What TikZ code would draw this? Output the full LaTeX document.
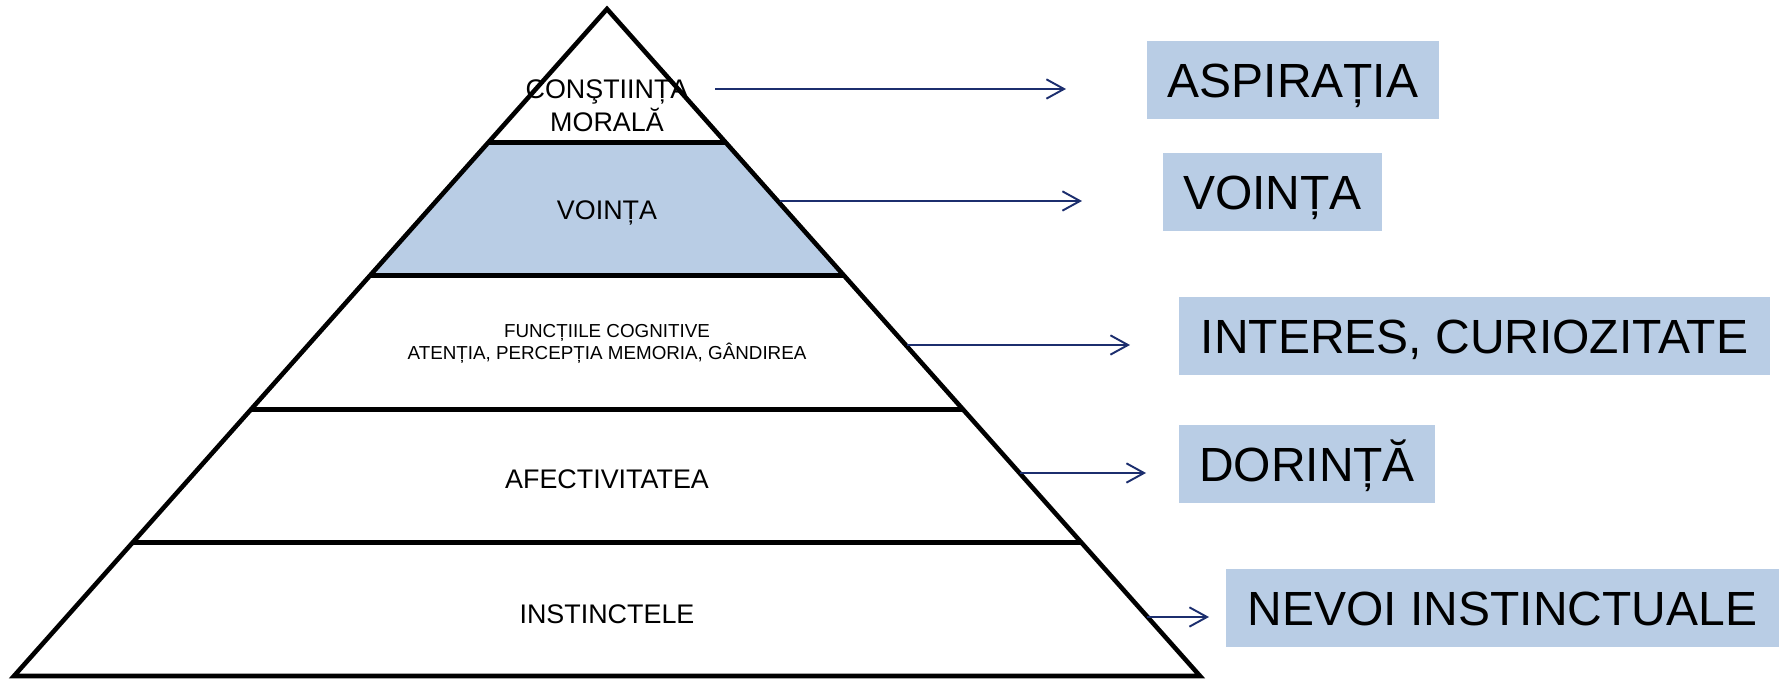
\documentclass[tikz,border=0pt]{standalone}
\usepackage{fontspec}
\setmainfont{Liberation Sans}
\usepackage{xcolor}
\usetikzlibrary{arrows.meta,calc}
\definecolor{boxblue}{RGB}{185,205,229}
\definecolor{arrnavy}{RGB}{28,46,110}

\begin{document}
\begin{tikzpicture}[
  lvl/.style={font=\fontsize{15.3}{18.8}\selectfont,align=center,inner sep=0pt},
  one/.style={text height=11pt,text depth=0pt},
  rbox/.style={rectangle,fill=boxblue,minimum height=1.56cm,inner sep=0pt,text height=19.5pt,text depth=0pt,font=\fontsize{27.3}{30}\selectfont},
  arr/.style={-{Straight Barb[length=10pt,width=11pt]},line width=1.1pt,draw=arrnavy},
  side/.style={line width=2.6pt},
  tier/.style={line width=3pt}
]
\useasboundingbox (0,0) rectangle (35.7,13.6);

% pyramid
\coordinate (top) at (12.14,13.42);
\coordinate (bl) at (0.28,0.08);
\coordinate (br) at (24.0,0.08);
\fill[boxblue] ($(top)!0.2!(bl)$) -- ($(top)!0.4!(bl)$) -- ($(top)!0.4!(br)$) -- ($(top)!0.2!(br)$) -- cycle;
\draw[side] (bl) -- (top) -- (br) -- cycle;
\foreach \k in {1,...,4}
  \draw[tier] ($(top)!\k/5!(bl)$) -- ($(top)!\k/5!(br)$);

\node[lvl] (cm) at (12.14,11.49) {CONŞTIINȚA\\MORALĂ};
\node[lvl,one] (vo) at (12.14,9.40) {VOINȚA};
\node[lvl,font=\fontsize{10.7}{12.5}\selectfont] (fc) at (12.14,6.72) {FUNCȚIILE COGNITIVE\\ATENȚIA, PERCEPȚIA MEMORIA, GÂNDIREA};
\node[lvl,one] (af) at (12.14,4.02) {AFECTIVITATEA};
\node[lvl,one] (in) at (12.14,1.32) {INSTINCTELE};

% boxes on the right
\node[rbox,minimum width=5.84cm] (asp) at (25.86,12.0) {ASPIRAȚIA};
\node[rbox,minimum width=4.38cm] (vol) at (25.45,9.76) {VOINȚA};
\node[rbox,minimum width=11.82cm] (int) at (29.49,6.88) {INTERES, CURIOZITATE};
\node[rbox,minimum width=5.12cm] (dor) at (26.14,4.32) {DORINȚĂ};
\node[rbox,minimum width=11.06cm] (nev) at (30.05,1.44) {NEVOI INSTINCTUALE};

\coordinate (s1) at (14.3,11.82);  \coordinate (e1) at (21.32,11.82);
\coordinate (s2) at (15.6,9.58);   \coordinate (e2) at (21.64,9.58);
\coordinate (s3) at (18.14,6.70);  \coordinate (e3) at (22.6,6.70);
\coordinate (s4) at (20.4,4.14);   \coordinate (e4) at (22.92,4.14);
\coordinate (s5) at (22.94,1.26);  \coordinate (e5) at (24.18,1.26);

\draw[arr] (s1) -- (e1);
\draw[arr] (s2) -- (e2);
\draw[arr] (s3) -- (e3);
\draw[arr] (s4) -- (e4);
\draw[arr] (s5) -- (e5);
\end{tikzpicture}
\end{document}
